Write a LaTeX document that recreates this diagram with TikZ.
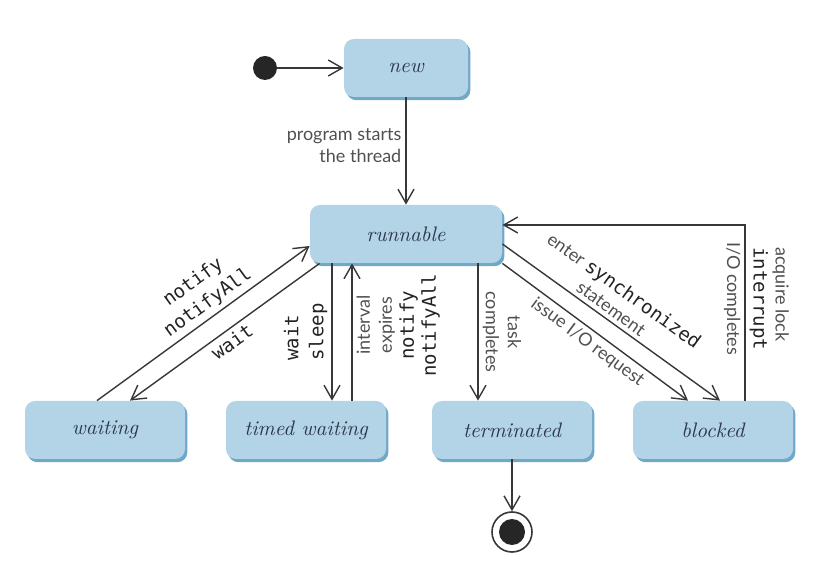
\documentclass[tikz,border=0pt]{standalone}
\usepackage{fontspec}
\setsansfont{Lato}
\setmonofont{DejaVu Sans Mono}
\usetikzlibrary{arrows.meta,shadows}

\definecolor{boxfill}{RGB}{178,212,230}
\definecolor{boxedge}{RGB}{112,168,200}
\definecolor{boxtext}{RGB}{45,55,75}
\definecolor{linegray}{RGB}{55,55,55}
\definecolor{labelgray}{RGB}{80,80,80}
\definecolor{codegray}{RGB}{35,35,35}

\newcommand{\jcode}[1]{{\ttfamily\fontsize{9.5}{12}\selectfont\color{codegray}#1}}

\tikzset{
  state/.style={rectangle, rounded corners=5pt, fill=boxfill, minimum height=29pt,
    text=boxtext, font=\rmfamily\itshape\fontsize{10.5}{12}\selectfont,
    general shadow={fill=boxedge, shadow xshift=1.2pt, shadow yshift=-1.6pt}},
  startdot/.style={circle, fill=black!85, minimum size=12pt, inner sep=0pt},
  trans/.style={draw=linegray, line width=0.7pt,
    -{Straight Barb[length=7pt,width=8pt,line width=0.7pt]}},
  lbl/.style={text=labelgray, font=\sffamily\fontsize{9}{11}\selectfont, inner sep=2pt},
  lblmono/.style={lbl, font=\ttfamily\fontsize{9.5}{12.5}\selectfont, text=codegray}
}

\begin{document}
\begin{tikzpicture}[x=0.5pt,y=-0.5pt]
\useasboundingbox (0,0) rectangle (825,566);
% The states
\node[state, minimum width=62pt] (new) at (406,68) {new};
\node[state, minimum width=96pt] (runnable) at (406,234) {runnable};
\foreach \nm/\xx/\txt in {waiting/105/waiting, timed/306/timed waiting,
  terminated/512/terminated, blocked/713/blocked}
  \node[state, minimum width=80pt] (\nm) at (\xx,430) {\txt};

% Initial and final states
\node[startdot] (start) at (265,68) {};
\node[circle, draw=linegray, line width=0.8pt, minimum size=20pt, inner sep=0pt] (final) at (512,532) {};
\node[startdot, minimum size=13pt] (finaldot) at (final) {};

% Transitions from new and to waiting
\draw[trans] (start) -- (new);
\draw[trans] (new) -- (runnable)
  node[lbl, pos=.45, left, align=right] {program starts\\the thread};
\draw[trans] ([xshift=-4pt]waiting.north) -- ([yshift=-6pt]runnable.west)
  node[lblmono, pos=.56, sloped, above, align=center] {notify\\notifyAll};
\draw[trans] ([xshift=5pt]runnable.south west) -- ([xshift=12.5pt]waiting.north)
  node[lblmono, pos=.5, sloped, below] {wait};

% Timed waiting and terminated
\draw[trans] ([xshift=-37pt]runnable.south) -- ([xshift=13pt]timed.north)
  node[lblmono, pos=.5, rotate=90, anchor=south, align=left] {wait\\sleep};
\draw[trans] ([xshift=23pt]timed.north) -- ([xshift=-27pt]runnable.south)
  node[lbl, pos=.55, rotate=90, anchor=north, align=center]
  {interval\\expires\\\jcode{notify}\\\jcode{notifyAll}};
\draw[trans] ([xshift=36pt]runnable.south) -- ([xshift=-17pt]terminated.north)
  node[lbl, pos=.5, rotate=-90, anchor=south, align=center] {task\\completes};
\draw[trans] (terminated) -- (final);

% Blocked
\draw[trans] (runnable.south east) -- ([xshift=-12.5pt]blocked.north)
  node[lbl, pos=.5, sloped, below] {issue I/O request};
\draw[trans] ([yshift=-5pt]runnable.east) -- ([xshift=3.5pt]blocked.north)
  node[lbl, pos=.47, sloped, above, align=center] {enter \jcode{synchronized}\\statement};
\draw[trans] ([xshift=16pt]blocked.north) |- ([yshift=4.5pt]runnable.east)
  node[lbl, pos=.29, rotate=-90, anchor=north] {I/O completes}
  node[lbl, pos=.29, rotate=-90, anchor=south, align=left] {acquire lock\\\jcode{interrupt}};

\end{tikzpicture}
\end{document}
